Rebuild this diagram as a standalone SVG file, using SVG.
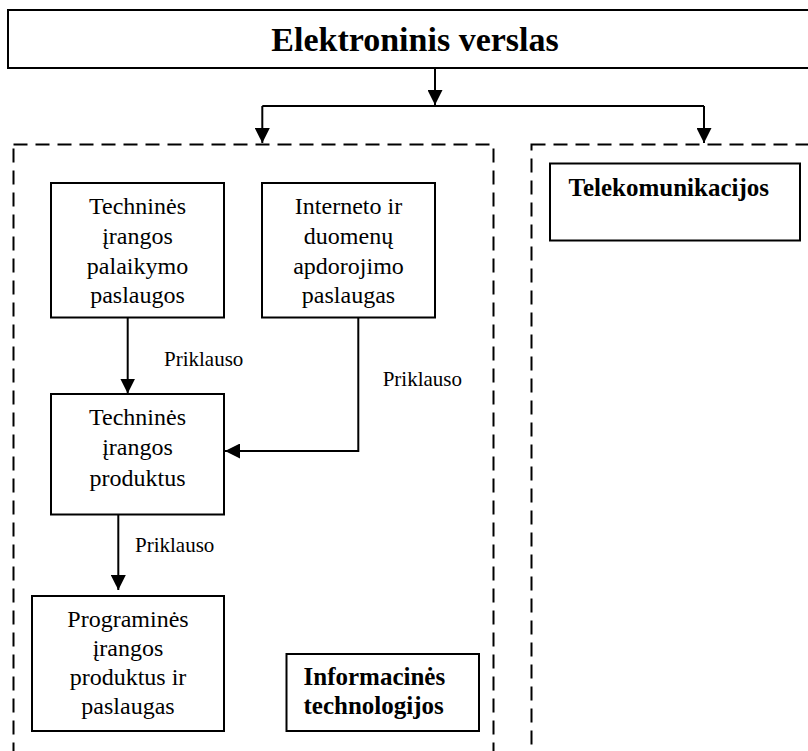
<svg xmlns="http://www.w3.org/2000/svg" width="808" height="751" viewBox="0 0 808 751">
  <defs>
    <marker id="arrow" markerUnits="userSpaceOnUse" markerWidth="15" markerHeight="15" refX="15" refY="7.5" orient="auto">
      <path d="M0,0 L15,7.5 L0,15 Z" fill="#000"/>
    </marker>
    <style>
      .box { fill: #fff; stroke: #000; stroke-width: 2; }
      .group { fill: none; stroke: #000; stroke-width: 2; stroke-dasharray: 14 8; }
      .conn { fill: none; stroke: #000; stroke-width: 2; marker-end: url(#arrow); }
      .txt { font-family: "Liberation Serif", "Times New Roman", serif; font-size: 24px; fill: #000; text-anchor: middle; }
      .bold { font-family: "Liberation Serif", "Times New Roman", serif; font-size: 25px; font-weight: bold; fill: #000; }
      .lbl { font-family: "Liberation Serif", "Times New Roman", serif; font-size: 21px; fill: #000; }
    </style>
  </defs>
  <rect width="808" height="751" fill="#fff"/>

  <!-- dashed group frames -->
  <g id="group-it">
    <rect class="group" x="13.5" y="144.5" width="480" height="640"/>
  </g>
  <g id="group-telecom">
    <rect class="group" x="531.5" y="144.5" width="320" height="640"/>
  </g>

  <!-- top node -->
  <g id="node-ebusiness">
    <rect class="box" x="8" y="10" width="830" height="58"/>
    <text x="415" y="51" font-family="Liberation Serif, Times New Roman, serif" font-size="34" font-weight="bold" text-anchor="middle">Elektroninis verslas</text>
  </g>

  <g id="node-hw-support">
    <rect class="box" x="51" y="183" width="173" height="134.5"/>
    <text class="txt" x="137.5" y="214">Techninės</text>
    <text class="txt" x="137.5" y="244">įrangos</text>
    <text class="txt" x="137.5" y="273.5">palaikymo</text>
    <text class="txt" x="137.5" y="303">paslaugos</text>
  </g>

  <g id="node-internet">
    <rect class="box" x="262" y="183" width="173" height="134.5"/>
    <text class="txt" x="348.5" y="214">Interneto ir</text>
    <text class="txt" x="348.5" y="244">duomenų</text>
    <text class="txt" x="348.5" y="273.5">apdorojimo</text>
    <text class="txt" x="348.5" y="303">paslaugas</text>
  </g>

  <g id="node-hw-products">
    <rect class="box" x="51" y="394" width="173" height="120.5"/>
    <text class="txt" x="137.5" y="425">Techninės</text>
    <text class="txt" x="137.5" y="455">įrangos</text>
    <text class="txt" x="137.5" y="485.5">produktus</text>
  </g>

  <g id="node-software">
    <rect class="box" x="32" y="596" width="192" height="135"/>
    <text class="txt" x="128" y="627">Programinės</text>
    <text class="txt" x="128" y="656">įrangos</text>
    <text class="txt" x="128" y="685">produktus ir</text>
    <text class="txt" x="128" y="714">paslaugas</text>
  </g>

  <g id="node-it-label">
    <rect class="box" x="286.5" y="654" width="192.5" height="77"/>
    <text class="bold" x="303.5" y="685">Informacinės</text>
    <text class="bold" x="303.5" y="714">technologijos</text>
  </g>

  <g id="node-telecom">
    <rect class="box" x="550" y="163.5" width="250" height="77"/>
    <text class="bold" x="568.5" y="196">Telekomunikacijos</text>
  </g>

  <!-- connectors -->
  <g id="connectors">
    <line class="conn" x1="435" y1="68" x2="435" y2="105"/>
    <polyline fill="none" stroke="#000" stroke-width="2" points="262.3,106 704,106"/>
    <line class="conn" x1="262.3" y1="106" x2="262.3" y2="143"/>
    <line class="conn" x1="704" y1="106" x2="704" y2="143"/>
    <line class="conn" x1="127.7" y1="317.5" x2="127.7" y2="393.5"/>
    <polyline class="conn" points="358.3,317.5 358.3,451 225,451"/>
    <line class="conn" x1="118.3" y1="514.5" x2="118.3" y2="590"/>
    <text class="lbl" x="164" y="365.5">Priklauso</text>
    <text class="lbl" x="382.7" y="385.5">Priklauso</text>
    <text class="lbl" x="135" y="552">Priklauso</text>
  </g>
</svg>
